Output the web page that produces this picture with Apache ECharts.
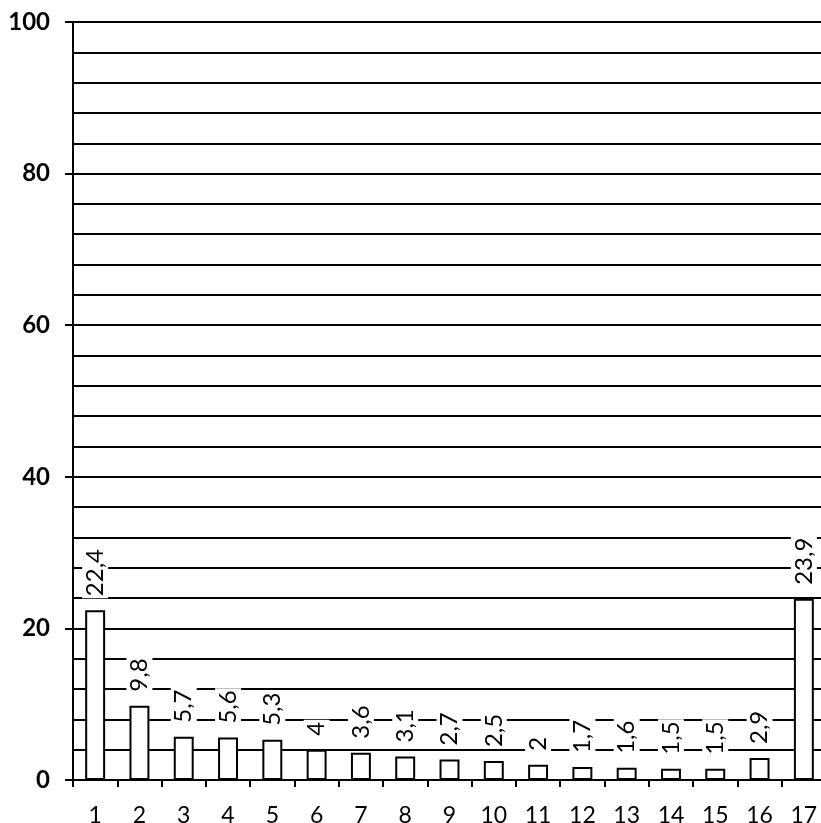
<!DOCTYPE html>
<html><head><meta charset="utf-8">
<script src="https://cdn.jsdelivr.net/npm/echarts@6/dist/echarts.min.js"></script>
<style>html,body{margin:0;padding:0;background:#fff}#c{width:821px;height:823px}</style>
</head><body><div id="c"></div>
<script>
const categories = ['1','2','3','4','5','6','7','8','9','10','11','12','13','14','15','16','17'];
const values = [22.4, 9.8, 5.7, 5.6, 5.3, 4, 3.6, 3.1, 2.7, 2.5, 2, 1.7, 1.6, 1.5, 1.5, 2.9, 23.9];
const yTicks = [0, 20, 40, 60, 80, 100];

const chart = echarts.init(document.getElementById('c'));
chart.setOption({
  animation: false,
  backgroundColor: '#fff',
  grid: { left: 73, right: -5, top: 22, bottom: 43, containLabel: false, outerBoundsMode: 'none' },
  xAxis: {
    type: 'category', data: categories,
    axisLine: { lineStyle: { color: '#000', width: 2 } },
    axisTick: { show: true, alignWithLabel: false, length: 7, lineStyle: { color: '#000', width: 2 } },
    axisLabel: { color: '#000', fontFamily: 'Lato', fontSize: 23, margin: 24 }
  },
  yAxis: {
    type: 'value', min: yTicks[0], max: yTicks[yTicks.length - 1], interval: 20,
    axisLine: { show: true, lineStyle: { color: '#000', width: 2 } },
    axisTick: { show: true, length: 8, lineStyle: { color: '#000', width: 2 } },
    axisLabel: { color: '#000', fontFamily: 'Lato', fontWeight: 'bold', fontSize: 24, margin: 23 },
    splitLine: { show: true, lineStyle: { color: '#000', width: 2 } },
    minorTick: { show: false, splitNumber: 5 },
    minorSplitLine: { show: true, lineStyle: { color: '#000', width: 2 } }
  },
  series: [{
    type: 'bar', data: values, barWidth: '45%',
    itemStyle: { color: '#fff', borderColor: '#000', borderWidth: 2 },
    label: {
      show: true, position: 'top', rotate: 90, align: 'left', verticalAlign: 'middle',
      distance: 12, color: '#000', fontFamily: 'Lato', fontSize: 24,
      backgroundColor: '#fff', padding: [1, 2],
      formatter: p => String(p.value).replace('.', ',')
    }
  }]
});
</script></body></html>
